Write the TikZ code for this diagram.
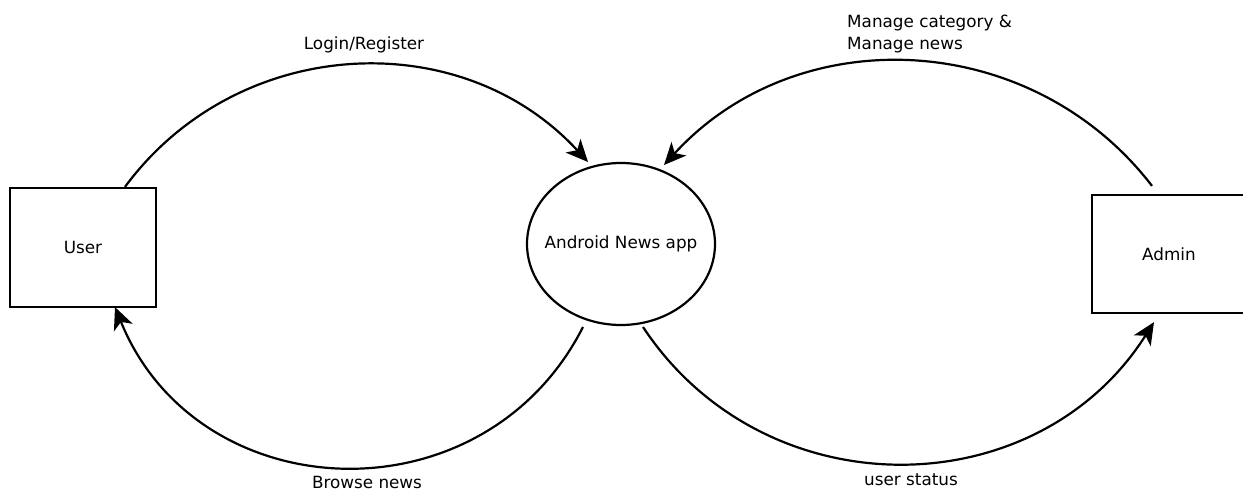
\documentclass[tikz,border=0pt]{standalone}
\usepackage{fontspec}
\setmainfont{DejaVu Sans}
\usetikzlibrary{arrows.meta,shapes.geometric}
\begin{document}
\begin{tikzpicture}[x=1pt,y=1pt,
  every node/.style={font=\fontsize{16.8}{22}\selectfont},
  box/.style={draw, line width=2.2pt, inner sep=0pt},
  proc/.style={draw, ellipse, line width=2.2pt, minimum width=188pt, minimum height=162pt, inner sep=0pt},
  flow/.style={line width=2.2pt, -{Stealth[length=22pt,width=20pt,inset=6pt]}},
  lbl/.style={inner sep=0pt}]
\useasboundingbox (0,0) rectangle (1243,491);
\node[box, minimum width=146pt, minimum height=119pt] (user) at (83,243.5) {User};
\node[box, minimum width=154pt, minimum height=118pt] (admin) at (1169,237) {Admin};
\node[proc, label={[inner sep=0pt]center:Android News app}] (app) at (621,247) {};
\coordinate (s1) at ([xshift=42pt]user.north);
\coordinate (e1) at ([shift={(-33,82)}]app.center);
\coordinate (s2) at ([shift={(-17,8)}]admin.north);
\coordinate (e2) at ([shift={(43,79)}]app.center);
\coordinate (s3) at ([shift={(-38,-83)}]app.center);
\coordinate (e3) at ([shift={(32,1)}]user.south);
\coordinate (s4) at ([shift={(22,-83)}]app.center);
\coordinate (e4) at ([shift={(-15,-8)}]admin.south);
\draw[flow] (s1) to[bend left=50.5, looseness=1.04] (e1);
\draw[flow] (s2) to[bend right=50, looseness=1.037] (e2);
\draw[flow] (s3) to[bend left=65.5, looseness=1.2] (e3);
\draw[flow] (s4) to[bend right=57.1, looseness=1.1] (e4);
\node[lbl] (l1) at (364,446) {Login/Register};
\node[lbl, anchor=west, align=left] (l2) at (847,457) {Manage category \&\\Manage news};
\node[lbl] (l3) at (367,9) {Browse news};
\node[lbl] (l4) at (911,11) {user status};
\end{tikzpicture}
\end{document}
